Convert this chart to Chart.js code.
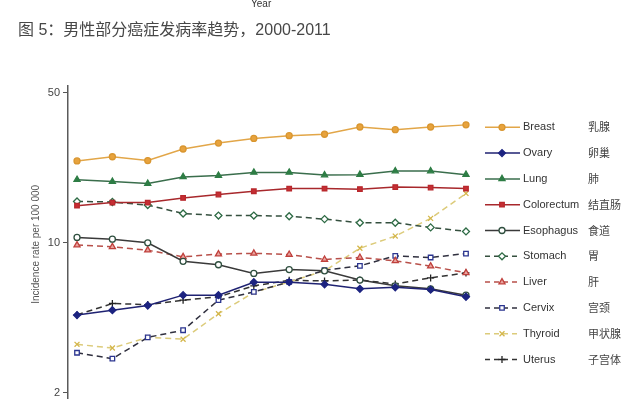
<!DOCTYPE html>
<html>
<head>
<meta charset="utf-8">
<script src="https://cdn.jsdelivr.net/npm/chart.js@4/dist/chart.umd.min.js"></script>
<style>
  html, body { margin: 0; padding: 0; background: #fff; width: 640px; height: 399px; overflow: hidden; }
  #wrap { position: absolute; left: 0; top: 0; width: 640px; height: 408px; }
  #yearTxt { position: absolute; left: 251px; top: -1px; font: 10px "Liberation Sans", Arial, sans-serif; line-height: 10px; color: #333; }
  #title { position: absolute; left: 18px; top: 20px; font: 16px "Liberation Sans", "Noto Sans CJK SC", sans-serif; line-height: 20px; color: #474747; white-space: nowrap; }
</style>
</head>
<body>
<div id="wrap"><canvas id="c"></canvas></div>
<div id="yearTxt">Year</div>
<div id="title">图 5：男性部分癌症发病率趋势，2000-2011</div>
<script>
// ---- data ----
const years = [2000, 2001, 2002, 2003, 2004, 2005, 2006, 2007, 2008, 2009, 2010, 2011];
const seriesNames = ['Breast', 'Ovary', 'Lung', 'Colorectum', 'Esophagus', 'Stomach', 'Liver', 'Cervix', 'Thyroid', 'Uterus'];
const seriesNamesZh = ['乳腺', '卵巢', '肺', '结直肠', '食道', '胃', '肝', '宫颈', '甲状腺', '子宫体'];
const breast     = [24.1, 25.2, 24.2, 27.4, 29.2, 30.7, 31.6, 32.1, 34.7, 33.7, 34.7, 35.5];
const ovary      = [4.6, 4.85, 5.1, 5.7, 5.7, 6.55, 6.55, 6.4, 6.1, 6.2, 6.05, 5.6];
const lung       = [19.7, 19.3, 18.9, 20.3, 20.6, 21.3, 21.3, 20.7, 20.8, 21.6, 21.6, 20.8];
const colorectum = [14.9, 15.4, 15.4, 16.2, 16.8, 17.4, 17.9, 17.9, 17.8, 18.2, 18.1, 17.9];
const esophagus  = [10.6, 10.4, 10.0, 8.2, 7.9, 7.2, 7.5, 7.4, 6.7, 6.3, 6.1, 5.7];
const stomach    = [15.6, 15.5, 15.0, 13.7, 13.4, 13.4, 13.3, 12.9, 12.4, 12.4, 11.8, 11.3];
const liver      = [9.76, 9.58, 9.24, 8.6, 8.86, 8.93, 8.82, 8.36, 8.54, 8.24, 7.78, 7.24];
const cervix     = [3.07, 2.88, 3.62, 3.91, 5.4, 5.9, 6.57, 7.45, 7.81, 8.69, 8.54, 8.91];
const thyroid    = [3.36, 3.23, 3.62, 3.55, 4.67, 5.87, 6.57, 7.4, 9.43, 10.75, 13.0, 17.0];
const uterus     = [4.61, 5.21, 5.15, 5.4, 5.6, 6.3, 6.68, 6.64, 6.71, 6.43, 6.86, 7.24];
const yTicks = [2, 10, 50];
const yTitle = 'Incidence rate per 100 000';

// ---- styles ----
const DASH = [6, 4];
const styles = [
  { line: '#E2A648', bg: '#E8A33D', bd: '#D99630', ps: 'circle',   r: 3,   dash: [] },
  { line: '#1F2272', bg: '#1C2380', bd: '#1C2380', ps: 'rectRot',  r: 3.5, dash: [] },
  { line: '#3A6E4C', bg: '#2E7D45', bd: '#2E7D45', ps: 'triangle', r: 3.5, dash: [] },
  { line: '#A8282C', bg: '#C62E33', bd: '#B8282D', ps: 'rect',     r: 3.2, dash: [] },
  { line: '#3A3A3A', bg: '#FFFFFF', bd: '#2F4F3F', ps: 'circle',   r: 3,   dash: [] },
  { line: '#35503F', bg: '#FFFFFF', bd: '#2E6B45', ps: 'rectRot',  r: 3.5, dash: DASH },
  { line: '#B8504A', bg: '#E9A5A0', bd: '#C0413D', ps: 'triangle', r: 3.5, dash: DASH },
  { line: '#30303F', bg: '#FFFFFF', bd: '#2B3590', ps: 'rect',     r: 3.2, dash: DASH },
  { line: '#DCCB7A', bg: '#D8BE55', bd: '#D4B64A', ps: 'crossRot', r: 3.5, dash: DASH },
  { line: '#333333', bg: '#222222', bd: '#222222', ps: 'cross',    r: 3.5, dash: DASH }
];
const seriesValues = [breast, ovary, lung, colorectum, esophagus, stomach, liver, cervix, thyroid, uterus];

const datasets = seriesValues.map((vals, i) => ({
  label: seriesNames[i],
  data: years.map((y, k) => ({ x: y, y: vals[k] })),
  borderColor: styles[i].line,
  backgroundColor: styles[i].bg,
  pointBackgroundColor: styles[i].bg,
  pointBorderColor: styles[i].bd,
  pointStyle: styles[i].ps,
  pointRadius: styles[i].r,
  pointBorderWidth: 1.3,
  borderWidth: 1.5,
  borderDash: styles[i].dash,
  tension: 0,
  fill: false
}));

const legendPlugin = {
  id: 'sideLegend',
  afterDraw(chart) {
    const ctx = chart.ctx;
    const rowY0 = 127.3, rowStep = 25.8;
    const x0 = 485, x1 = 520, xm = 502, xt = 523, xz = 588;
    chart.data.datasets.forEach((ds, i) => {
      const y = rowY0 + i * rowStep;
      ctx.save();
      ctx.strokeStyle = ds.borderColor;
      ctx.lineWidth = 1.5;
      ctx.setLineDash(ds.borderDash && ds.borderDash.length ? [5, 4] : []);
      ctx.beginPath();
      ctx.moveTo(x0, y); ctx.lineTo(x1, y);
      ctx.stroke();
      ctx.setLineDash([]);
      ctx.fillStyle = ds.pointBackgroundColor;
      ctx.strokeStyle = ds.pointBorderColor;
      ctx.lineWidth = 1.3;
      Chart.helpers.drawPoint(ctx, { pointStyle: ds.pointStyle, radius: ds.pointRadius, borderWidth: 1.3, rotation: 0 }, xm, y);
      ctx.fillStyle = '#333';
      ctx.textBaseline = 'middle';
      ctx.textAlign = 'left';
      ctx.font = '11px "Liberation Sans", Arial, sans-serif';
      ctx.fillText(ds.label, xt, y);
      ctx.fillStyle = '#444';
      ctx.font = '11px "Noto Sans CJK SC", sans-serif';
      ctx.fillText(seriesNamesZh[i], xz, y);
      ctx.restore();
    });
  }
};

new Chart(document.getElementById('c'), {
  type: 'line',
  data: { datasets },
  options: {
    responsive: true,
    maintainAspectRatio: false,
    animation: false,
    layout: { padding: { left: 0, right: 165, top: 86, bottom: 0 } },
    plugins: { legend: { display: false }, tooltip: { enabled: false } },
    scales: {
      x: {
        type: 'linear',
        min: 1999.745,
        max: 2011.255,
        display: false
      },
      y: {
        type: 'logarithmic',
        min: 1.795,
        max: 53.9,
        bounds: 'data',
        afterBuildTicks: (s) => { s.ticks = yTicks.map(v => ({ value: v })); },
        afterFit: (s) => { s.width = 68; s.paddingTop = 0; s.paddingBottom = 0; },
        ticks: {
          autoSkip: false,
          padding: 3,
          color: '#444',
          font: { family: '"Liberation Sans", Arial, sans-serif', size: 11 },
          callback: (v) => String(v)
        },
        grid: { drawOnChartArea: false, drawTicks: true, tickLength: 5, color: '#555', lineWidth: 1 },
        border: { display: true, color: '#5a5a5a', width: 1.5 },
        title: {
          display: true,
          text: yTitle,
          color: '#555',
          font: { family: '"Liberation Sans", Arial, sans-serif', size: 10 },
          padding: { top: 30, bottom: 0 }
        }
      }
    }
  },
  plugins: [legendPlugin]
});
</script>
</body>
</html>
